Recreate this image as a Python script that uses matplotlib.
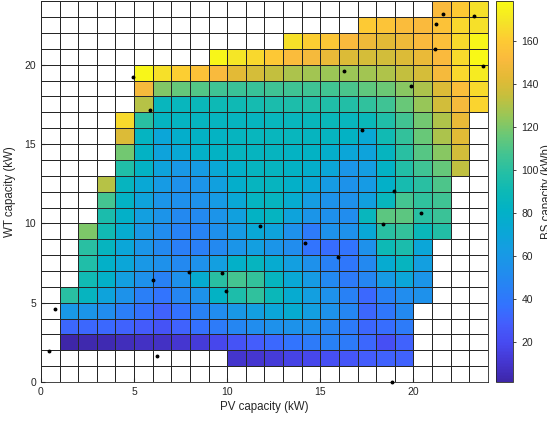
import numpy as np
import matplotlib
matplotlib.use("Agg")
import matplotlib.pyplot as plt
from matplotlib.colors import LinearSegmentedColormap

plt.rcParams["font.family"] = ["Liberation Sans", "DejaVu Sans"]

n = np.nan

# cell edges (kW)
pv_edges = np.arange(0, 25)
wt_edges = np.arange(0, 25)

# BS capacity (kWh), rows listed from WT = 23..24 (top) down to WT = 0..1
bs_rows = [
    [n, n, n, n, n, n, n, n, n, n, n, n, n, n, n, n, n, n, n, n, n, 152, 160, 168],
    [n, n, n, n, n, n, n, n, n, n, n, n, n, n, n, n, n, 160, 157, 153, 152, 156, 165, 168],
    [n, n, n, n, n, n, n, n, n, n, n, n, n, 168, 162, 158, 152, 147, 143, 147, 152, 155, 166, 176],
    [n, n, n, n, n, n, n, n, n, 176, 170, 165, 159, 153, 150, 146, 141, 139, 138, 141, 146, 152, 166, 178],
    [n, n, n, n, n, 176, 168, 162, 156, 151, 143, 139, 134, 129, 127, 126, 126, 127, 130, 134, 139, 150, 165, 172],
    [n, n, n, n, n, 150, 121, 115, 111, 106, 105, 104, 106, 106, 106, 107, 109, 114, 117, 122, 129, 141, 154, 166],
    [n, n, n, n, n, 131, 86, 86, 88, 90, 91, 93, 95, 96, 97, 97, 98, 102, 106, 116, 125, 138, 150, 164],
    [n, n, n, n, 166, 100, 84, 84, 85, 85, 85, 85, 86, 86, 87, 88, 86, 88, 97, 107, 118, 130, 146, n],
    [n, n, n, n, 141, 84, 70, 78, 82, 83, 85, 86, 86, 86, 85, 85, 82, 72, 92, 103, 116, 129, 142, n],
    [n, n, n, n, 118, 82, 68, 72, 80, 82, 85, 85, 85, 83, 82, 78, 70, 68, 85, 100, 112, 122, 138, n],
    [n, n, n, n, 97, 82, 68, 60, 62, 72, 80, 85, 85, 82, 78, 70, 58, 64, 82, 98, 106, 115, 133, n],
    [n, n, n, 131, 85, 72, 62, 55, 57, 66, 78, 85, 85, 80, 72, 62, 56, 62, 80, 94, 100, 110, n, n],
    [n, n, n, 108, 82, 68, 58, 54, 55, 62, 72, 84, 85, 76, 63, 56, 55, 66, 86, 108, 102, 106, n, n],
    [n, n, n, 95, 80, 65, 57, 50, 50, 57, 66, 82, 84, 68, 58, 54, 52, 86, 113, 113, 100, 105, n, n],
    [n, n, 120, 92, 76, 60, 52, 46, 46, 54, 62, 72, 68, 55, 42, 55, 55, 72, 100, 103, 88, 98, n, n],
    [n, n, 100, 85, 70, 58, 50, 44, 44, 50, 58, 65, 58, 52, 38, 35, 38, 55, 90, 95, 70, n, n, n],
    [n, n, 97, 80, 70, 60, 55, 50, 55, 65, 80, 85, 75, 65, 55, 45, 40, 50, 75, 85, 65, n, n, n],
    [n, n, 92, 80, 65, 55, 45, 55, 75, 100, 108, 103, 85, 72, 62, 50, 42, 48, 62, 70, 58, n, n, n],
    [n, 100, 85, 68, 56, 44, 38, 48, 56, 82, 96, 102, 88, 75, 65, 55, 45, 33, 45, 52, 55, n, n, n],
    [n, 60, 58, 52, 43, 37, 30, 37, 45, 52, 60, 65, 70, 75, 65, 55, 48, 32, 40, 50, n, n, n, n],
    [n, 32, 32, 33, 30, 27, 24, 30, 36, 42, 48, 52, 55, 56, 54, 48, 42, 32, 35, 42, n, n, n, n],
    [n, 1.3, 3, 4, 6, 8, 8, 11, 13, 18, 24, 28, 33, 38, 42, 45, 42, 32, 22, 30, n, n, n, n],
    [n, n, n, n, n, n, n, n, n, n, 10, 11, 13, 16, 18, 22, 25, 28, 30, 30, n, n, n, n],
    [n, n, n, n, n, n, n, n, n, n, n, n, n, n, n, n, n, n, n, n, n, n, n, n],
]

# sampled design points (kW)
dot_pv = [0.75, 0.45, 6.21, 4.95, 5.85, 6.03, 7.96, 9.70, 9.93, 11.76, 14.17, 15.96,
          18.37, 20.40, 18.97, 18.82, 21.56, 23.26, 21.20, 21.15, 23.74, 16.28, 19.86, 17.25]
dot_wt = [4.60, 1.97, 1.66, 19.20, 17.16, 6.44, 6.92, 6.88, 5.76, 9.86, 8.75, 7.89,
          9.97, 10.66, 12.05, 0.0, 23.18, 23.05, 22.57, 21.00, 19.90, 19.62, 18.63, 15.86]

cbar_ticks = [20, 40, 60, 80, 100, 120, 140, 160]
vmin, vmax = 1.3, 178.7

# parula-like colormap
parula_pts = [
    (0.00, (0.2422, 0.1504, 0.6603)),
    (0.05, (0.2691, 0.2115, 0.8128)),
    (0.10, (0.2790, 0.2880, 0.9420)),
    (0.15, (0.2660, 0.3643, 0.9899)),
    (0.20, (0.2000, 0.4488, 0.9979)),
    (0.25, (0.1540, 0.5110, 0.9600)),
    (0.30, (0.1178, 0.5684, 0.9227)),
    (0.35, (0.0816, 0.6168, 0.8862)),
    (0.40, (0.0337, 0.6590, 0.8342)),
    (0.45, (0.0069, 0.6969, 0.7758)),
    (0.50, (0.0475, 0.7233, 0.7143)),
    (0.55, (0.1445, 0.7483, 0.6450)),
    (0.60, (0.2664, 0.7675, 0.5667)),
    (0.65, (0.4159, 0.7835, 0.4630)),
    (0.70, (0.6000, 0.7780, 0.3400)),
    (0.75, (0.7700, 0.7500, 0.2400)),
    (0.80, (0.8900, 0.7300, 0.2100)),
    (0.85, (0.9800, 0.7300, 0.2400)),
    (0.90, (0.9934, 0.7956, 0.2013)),
    (0.95, (0.9594, 0.8963, 0.1516)),
    (1.00, (0.9769, 0.9839, 0.0805)),
]
parula = LinearSegmentedColormap.from_list("parula", parula_pts, N=256)
parula.set_bad("white")

bs = np.ma.masked_invalid(np.array(bs_rows[::-1], dtype=float))

dark = (0.15, 0.15, 0.15)

fig = plt.figure(figsize=(5.47, 4.22), dpi=100)
ax = fig.add_axes([41 / 547, 40 / 422, 447 / 547, 380.7 / 422])
cax = fig.add_axes([496 / 547, 40 / 422, 17 / 547, 380.7 / 422])

mesh = ax.pcolormesh(pv_edges, wt_edges, bs, cmap=parula, vmin=vmin, vmax=vmax,
                     edgecolors=dark, linewidth=0.6)
ax.plot(dot_pv, dot_wt, "o", color="k", markersize=1.8, clip_on=False, zorder=5)

ax.set_xlim(0, 24)
ax.set_ylim(0, 24)
ax.set_xticks([0, 5, 10, 15, 20])
ax.set_yticks([0, 5, 10, 15, 20])
ax.tick_params(direction="in", length=3, labelsize=7.5, colors=dark)
for s in ax.spines.values():
    s.set_color(dark)
    s.set_linewidth(0.6)
ax.set_xlabel("PV capacity (kW)", fontsize=8.3, color=dark, labelpad=3)
ax.set_ylabel("WT capacity (kW)", fontsize=8.3, color=dark, labelpad=6)

cb = fig.colorbar(mesh, cax=cax, ticks=cbar_ticks)
cb.outline.set_edgecolor(dark)
cb.outline.set_linewidth(0.6)
cax.tick_params(direction="out", length=2.5, width=0.6, labelsize=7.5, colors=dark)
fig.text(541 / 547, 0.545, "BS capacity (kWh)", rotation=90, ha="left", va="center",
         fontsize=8.3, color=dark)

fig.savefig("out.png", dpi=100)
plt.close(fig)
